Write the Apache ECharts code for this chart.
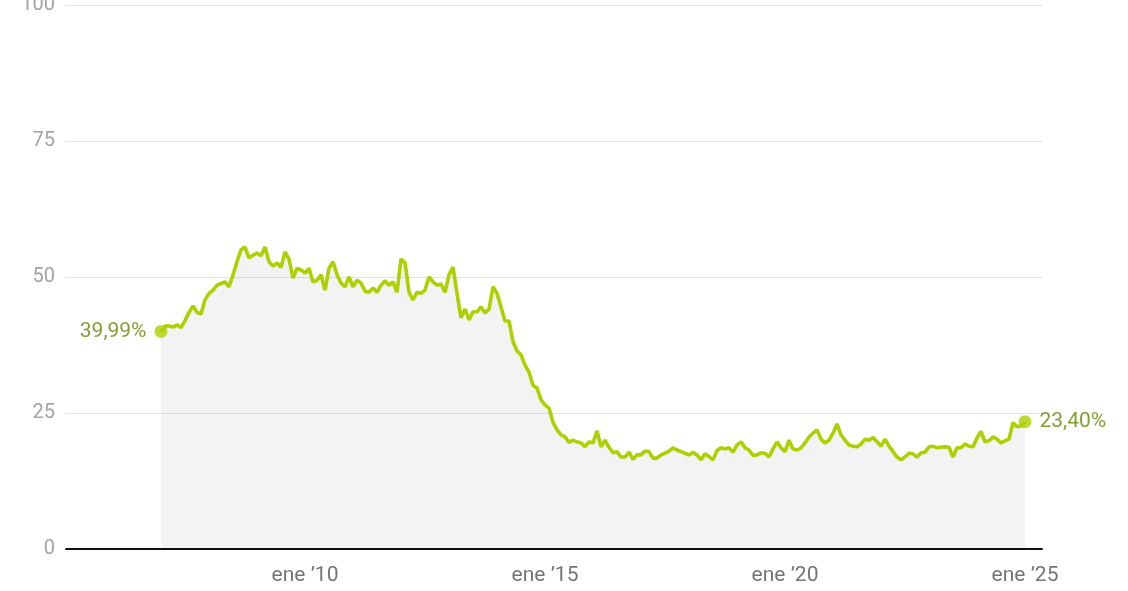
<!DOCTYPE html>
<html>
<head>
<meta charset="utf-8">
<script src="https://cdn.jsdelivr.net/npm/echarts@6/dist/echarts.min.js"></script>
<style>
html,body{margin:0;padding:0;background:#fff;}
#chart{width:1128px;height:591px;}
</style>
</head>
<body>
<div id="chart"></div>
<script>
// Monthly series, starting January 2007
const startYear = 2007;
const values = [
  39.99, 41.0, 41.0, 40.8, 41.2, 40.7, 42.0, 43.5, 44.7, 43.5, 43.2, 45.8,
  47.0, 47.6, 48.5, 48.8, 49.1, 48.2, 50.4, 52.8, 55.0, 55.5, 53.5, 54.0,
  54.4, 53.9, 55.5, 52.8, 52.0, 52.6, 51.8, 54.6, 53.3, 49.8, 51.6, 51.3,
  50.7, 51.6, 49.1, 49.4, 50.4, 47.6, 51.6, 52.8, 50.4, 48.9, 48.2, 50.0,
  48.2, 49.4, 48.9, 47.4, 47.2, 48.0, 47.2, 48.5, 49.3, 48.5, 49.1, 47.2,
  53.3, 52.6, 47.2, 45.8, 47.2, 47.0, 47.6, 50.0, 49.1, 48.5, 48.7, 47.2,
  50.4, 51.8, 47.0, 42.5, 44.1, 42.1, 43.6, 43.6, 44.5, 43.4, 44.1, 48.2,
  47.0, 44.5, 41.9, 41.9, 38.1, 36.4, 35.7, 33.8, 32.5, 30.1, 29.6, 27.4,
  26.5, 25.9, 23.3, 21.9, 21.0, 20.6, 19.6, 20.0, 19.7, 19.5, 18.8, 19.7,
  19.5, 21.7, 18.8, 20.0, 18.7, 17.7, 17.9, 16.9, 16.9, 17.8, 16.5, 17.3,
  17.3, 18.0, 17.9, 16.7, 16.7, 17.3, 17.6, 18.0, 18.6, 18.2, 17.9, 17.6,
  17.3, 17.8, 17.3, 16.4, 17.5, 17.0, 16.4, 18.1, 18.6, 18.4, 18.6, 17.8,
  19.1, 19.7, 18.6, 18.2, 17.2, 17.3, 17.7, 17.6, 16.9, 18.4, 19.7, 18.6,
  17.9, 20.0, 18.4, 18.2, 18.6, 19.5, 20.6, 21.3, 21.9, 20.2, 19.5, 20.0,
  21.3, 23.0, 21.0, 20.0, 19.1, 18.9, 18.8, 19.3, 20.2, 20.0, 20.5, 19.7,
  18.9, 20.2, 18.9, 17.9, 16.9, 16.4, 16.9, 17.6, 17.5, 16.9, 17.7, 17.8,
  18.8, 18.9, 18.6, 18.7, 18.8, 18.7, 16.9, 18.6, 18.6, 19.3, 18.9, 18.8,
  20.4, 21.6, 19.7, 19.9, 20.6, 20.2, 19.5, 19.9, 20.2, 23.2, 22.5, 22.6,
  23.40
];
const tickYears = [2010, 2015, 2020, 2025];
const yTicks = [0, 25, 50, 75, 100];

const points = values.map((v, i) => [startYear + i / 12, v]);
const endPoints = [points[0], points[points.length - 1]];

const fmtPct = v => v.toFixed(2).replace('.', ',') + '%';

const chart = echarts.init(document.getElementById('chart'), null, {renderer: 'canvas'});
chart.setOption({
  animation: false,
  backgroundColor: '#ffffff',
  grid: {left: 66, right: 86, top: 5, bottom: 42, containLabel: false, outerBoundsMode: 'none'},
  xAxis: {
    type: 'value',
    min: startYear - 23.75 / 12,
    max: startYear + 220.25 / 12,
    axisLine: {show: true, onZero: false, lineStyle: {color: '#111111', width: 2}},
    axisTick: {show: false},
    splitLine: {show: false},
    axisLabel: {
      customValues: tickYears,
      formatter: v => 'ene \u2019' + String(Math.round(v)).slice(2),
      color: '#757575',
      fontFamily: 'Roboto',
      fontSize: 21,
      margin: 16
    }
  },
  yAxis: {
    type: 'value',
    min: yTicks[0],
    max: yTicks[yTicks.length - 1],
    interval: 25,
    axisLine: {show: false},
    axisTick: {show: false},
    splitLine: {show: true, lineStyle: {color: '#e2e2e2', width: 1}},
    axisLabel: {
      color: '#a3a3a3',
      fontFamily: 'Roboto',
      fontSize: 20,
      margin: 11
    }
  },
  series: [
    {
      type: 'line',
      data: points,
      symbol: 'none',
      lineStyle: {color: '#acd000', width: 3.6},
      areaStyle: {color: 'rgba(0,0,0,0.066)'},
      z: 2
    },
    {
      type: 'scatter',
      data: [
        {value: endPoints[0], label: {position: 'left'}},
        {value: endPoints[1], label: {position: 'right'}}
      ],
      symbolSize: 13,
      itemStyle: {color: '#acd000'},
      z: 3,
      label: {
        show: true,
        fontFamily: 'Roboto',
        fontSize: 21,
        color: '#628800',
        formatter: p => fmtPct(p.value[1]),
        distance: 8
      }
    }
  ]
});
</script>
</body>
</html>
